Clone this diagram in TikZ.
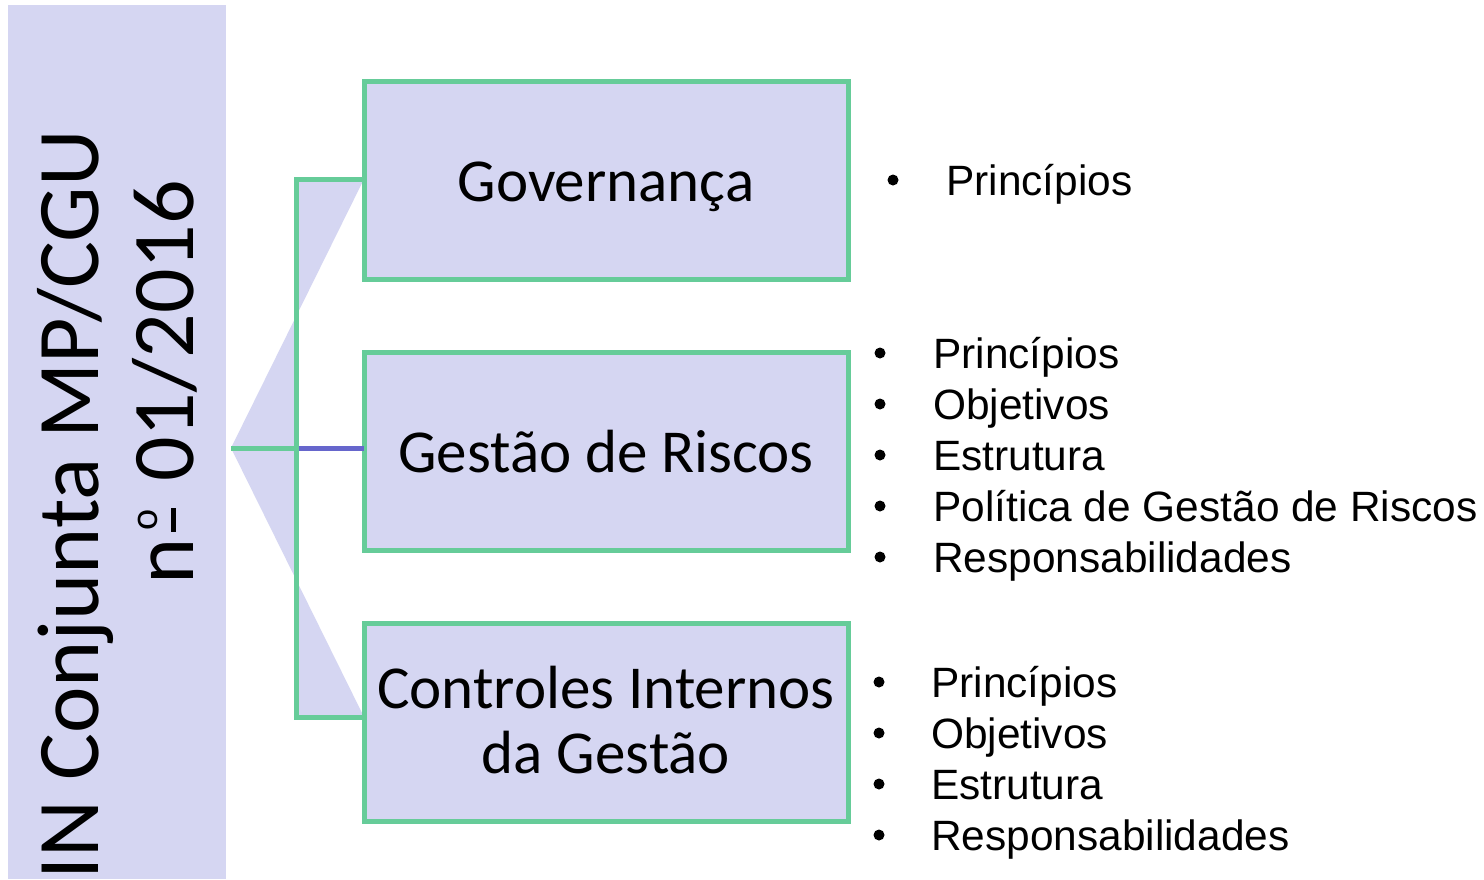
\documentclass[tikz,border=0pt]{standalone}
\usepackage{fontspec}
\setmainfont{Carlito}
\newfontfamily\listfont{Liberation Sans}
\definecolor{lav}{RGB}{213,214,242}
\definecolor{grn}{RGB}{102,204,153}
\definecolor{blu}{RGB}{102,102,204}
\newcommand{\ordmasc}{\makebox[0.42em][c]{\makebox[0pt][c]{\raisebox{0.19em}{\rule{0.27em}{0.055em}}}\makebox[0pt][c]{\raisebox{0.40em}{\fontsize{40}{40}\selectfont o}}}}
\begin{document}
\begin{tikzpicture}[x=1pt,y=-1pt,
  box/.style={draw=grn,line width=5pt,fill=lav},
  conn/.style={draw=grn,line width=5pt},
  boxtext/.style={font=\fontsize{61}{64}\selectfont,anchor=base,inner sep=0pt,align=center},
  sidetext/.style={font=\fontsize{88}{97}\selectfont,anchor=base west,inner sep=0pt,rotate=90},
  item/.style={font=\listfont\fontsize{42.4}{51}\selectfont,anchor=base west,inner sep=0pt},
  dot/.style={circle,fill=black,inner sep=0pt,minimum size=11pt}]
\useasboundingbox (0,0) rectangle (1484,879);
\fill[white] (0,0) rectangle (1484,879);
% left bar
\fill[lav] (8,5) rectangle (226,879);
\node[sidetext] (l1) at (98,880) {IN Conjunta MP/CGU};
\node[sidetext] (l2) at (193,585) {n\ordmasc{} 01/2016};
% coordinates
\coordinate (root) at (231,448);
\coordinate (jt) at (296,179);
\coordinate (jm) at (296,448);
\coordinate (jb) at (296,717);
% background bowties
\fill[lav] (364,179) -- (root) -- (jm) -- (jt) -- cycle;
\fill[lav] (364,717) -- (root) -- (jm) -- (jb) -- cycle;
% boxes
\draw[box] (364,81) rectangle (848,279);
\draw[box] (364,352) rectangle (848,550);
\draw[box] (364,623) rectangle (848,821);
\coordinate (b1w) at (364,179);
\coordinate (b2w) at (364,448);
\coordinate (b3w) at (364,717);
% connectors
\draw[conn] (root) -- (jm);
\draw[conn,line join=miter] (b1w) -- (jt) -- (jb) -- (b3w);
\draw[draw=blu,line width=5pt] (298.5,448) -- (b2w);
% box texts
\node[boxtext] (t1) at (606,201) {Governança};
\node[boxtext] (t2) at (606,472) {Gestão de Riscos};
\node[boxtext] (t3) at (606,708) {Controles Internos};
\node[boxtext] (t3b) at (606,773) {da Gestão};
% lists
\node[dot] (d0) at (893,180) {};
\node[item] (i0) at (946,195) {Princípios};
\foreach \t [count=\k from 0] in {Princípios,Objetivos,Estrutura,Política de Gestão de Riscos,Responsabilidades}{
  \node[dot] (dm\k) at (880,{353+51*\k}) {};
  \node[item] (im\k) at (933,{368+51*\k}) {\t};
}
\foreach \t [count=\k from 0] in {Princípios,Objetivos,Estrutura,Responsabilidades}{
  \node[dot] (db\k) at (879,{682+51*\k}) {};
  \node[item] (ib\k) at (931,{697+51*\k}) {\t};
}
\end{tikzpicture}
\end{document}
